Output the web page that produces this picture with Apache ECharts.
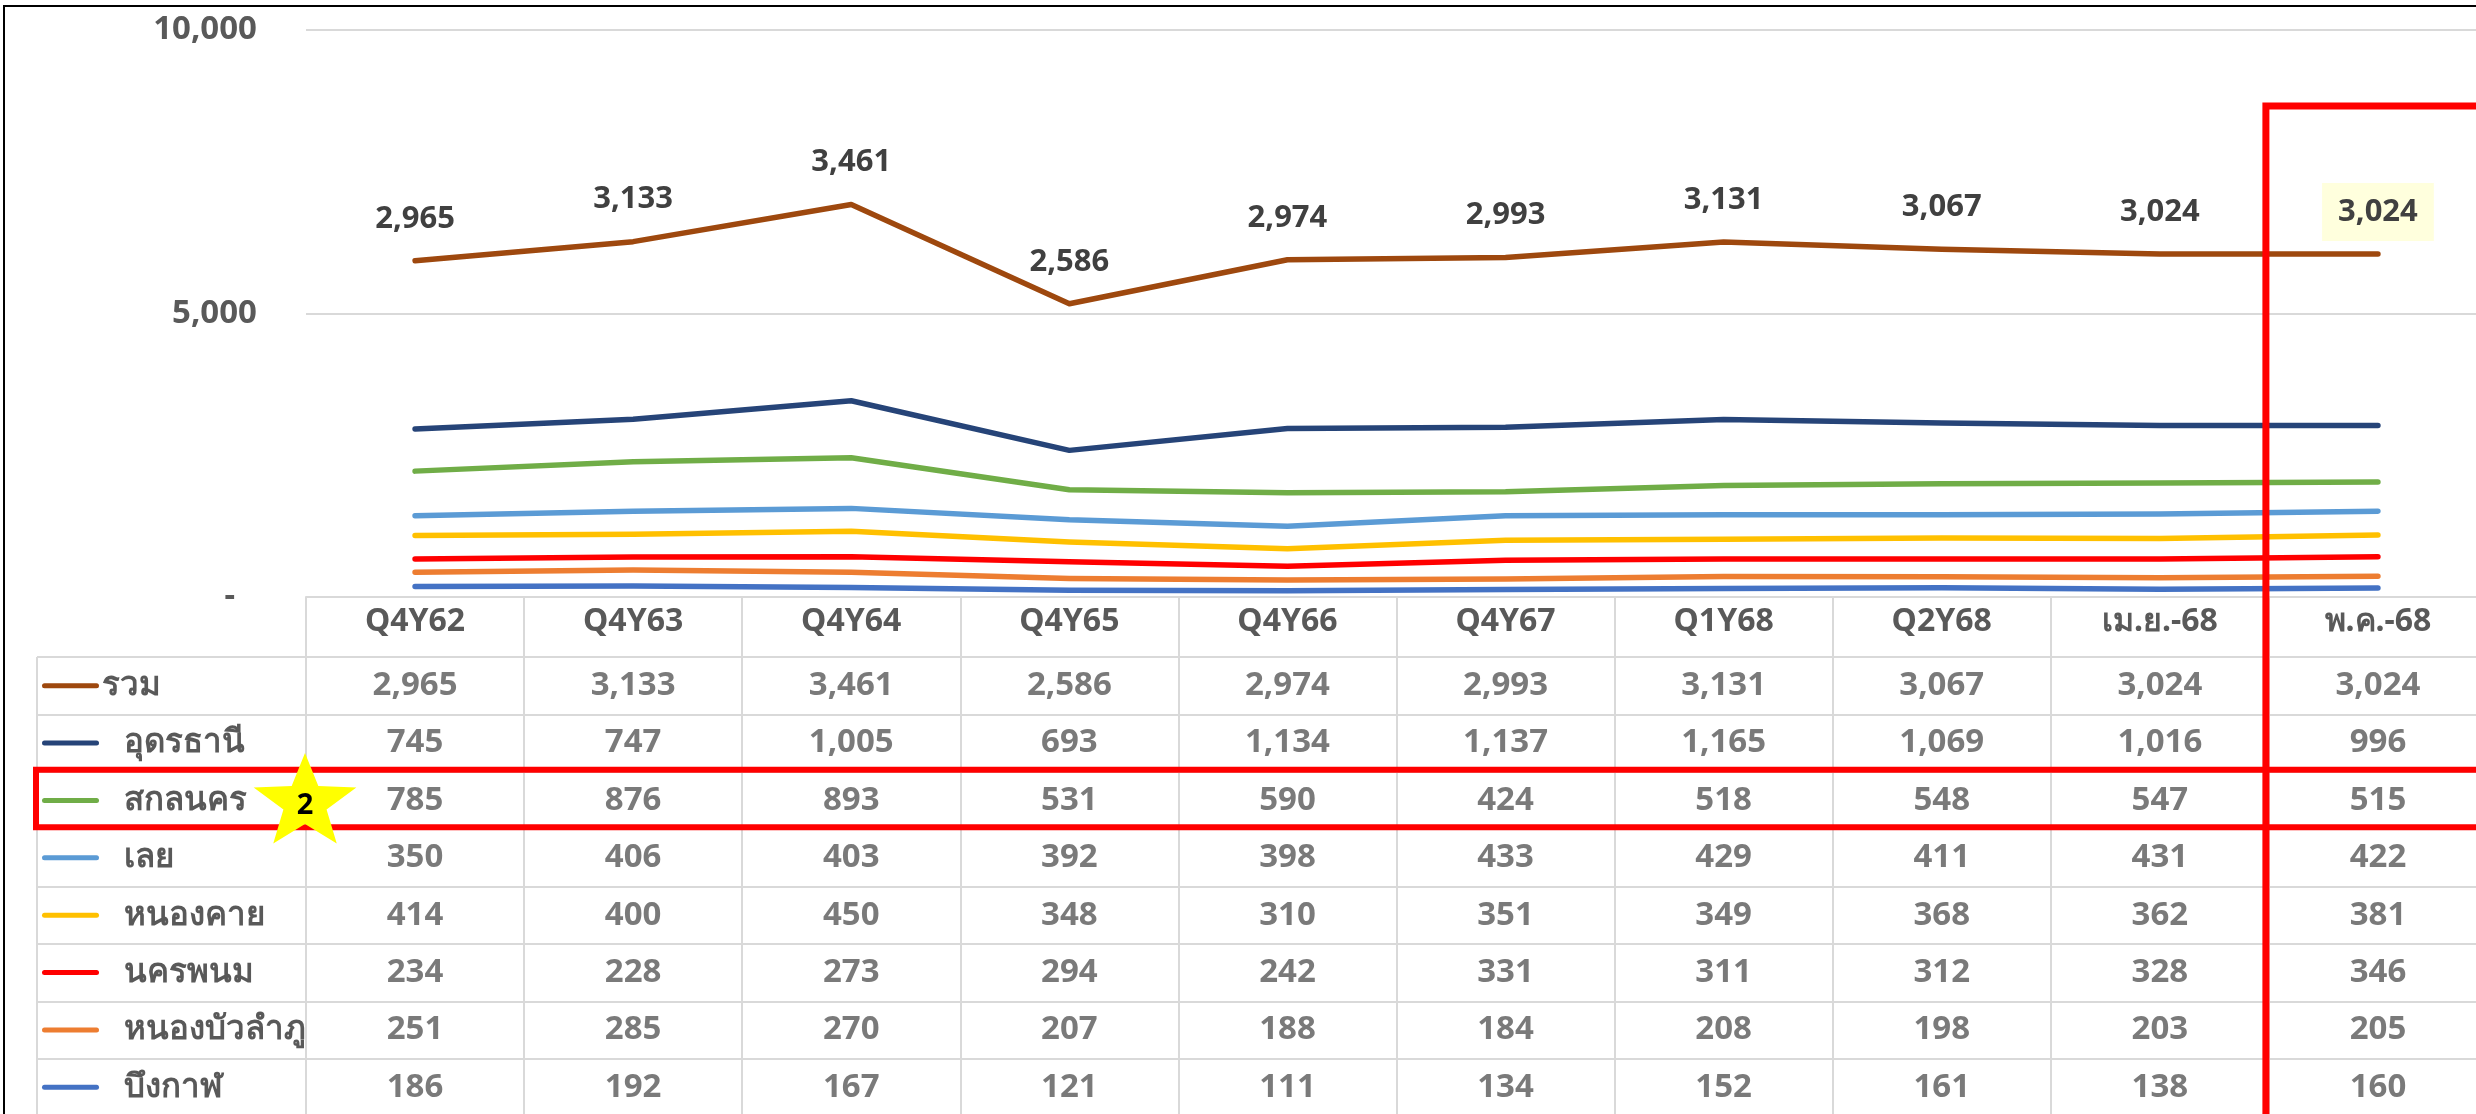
<!DOCTYPE html>
<html>
<head>
<meta charset="utf-8">
<script src="https://cdn.jsdelivr.net/npm/echarts@6/dist/echarts.min.js"></script>
<style>
  html, body { margin: 0; padding: 0; background: #fff; }
  #main { width: 2476px; height: 1114px; }
</style>
</head>
<body>
<div id="main"></div>
<script>
const categories = ['Q4Y62', 'Q4Y63', 'Q4Y64', 'Q4Y65', 'Q4Y66', 'Q4Y67', 'Q1Y68', 'Q2Y68', 'เม.ย.-68', 'พ.ค.-68'];
const rowNames = ['รวม', 'อุดรธานี', 'สกลนคร', 'เลย', 'หนองคาย', 'นครพนม', 'หนองบัวลำภู', 'บึงกาฬ'];

const total     = [2965, 3133, 3461, 2586, 2974, 2993, 3131, 3067, 3024, 3024];
const udon      = [745, 747, 1005, 693, 1134, 1137, 1165, 1069, 1016, 996];
const sakon     = [785, 876, 893, 531, 590, 424, 518, 548, 547, 515];
const loei      = [350, 406, 403, 392, 398, 433, 429, 411, 431, 422];
const nongkhai  = [414, 400, 450, 348, 310, 351, 349, 368, 362, 381];
const nakhon    = [234, 228, 273, 294, 242, 331, 311, 312, 328, 346];
const nongbua   = [251, 285, 270, 207, 188, 184, 208, 198, 203, 205];
const bueng     = [186, 192, 167, 121, 111, 134, 152, 161, 138, 160];

const yTicks = [0, 5000, 10000];

const rows = [total, udon, sakon, loei, nongkhai, nakhon, nongbua, bueng];
const colors = ['#9E480E', '#264478', '#70AD47', '#5B9BD5', '#FFC000', '#FF0000', '#ED7D31', '#4472C4'];

const FONT = "'Noto Sans', sans-serif";
const GRAY = '#595959';
const LINE = '#D9D9D9';
const fmt = v => v.toLocaleString('en-US');

const chartDom = document.getElementById('main');
const myChart = echarts.init(chartDom, null, { renderer: 'canvas' });

// stacked lines, bottom series first so รวม ends up on top
const lineSeries = rows.map((vals, i) => ({
  name: rowNames[i],
  type: 'line',
  stack: 'all',
  xAxisIndex: 0,
  yAxisIndex: 0,
  showSymbol: i === 0,
  symbol: 'circle',
  symbolSize: 2,
  lineStyle: { width: 5.5, color: colors[i], cap: 'round', join: 'round' },
  itemStyle: { color: 'rgba(0,0,0,0)' },
  z: 3,
  label: i === 0 ? {
    show: true,
    position: 'top',
    distance: 25,
    fontFamily: FONT,
    fontWeight: 'bold',
    fontSize: 31,
    lineHeight: 32,
    color: '#404040',
    formatter: p => fmt(p.value)
  } : { show: false },
  labelLayout: { hideOverlap: false },
  data: i === 0
    ? vals.map((v, j) => j === vals.length - 1
        ? { value: v, label: { backgroundColor: '#FFFFDD', padding: [13, 16], distance: 12 } }
        : v)
    : vals
})).reverse();

// table cells
const cellData = [];
rows.forEach((vals, r) => vals.forEach((v, c) => cellData.push([c, r, v])));

const rich = { tf: { padding: [0, 0, 0, 3] }, ti: { padding: [0, 0, 0, 25] } };
colors.forEach((c, i) => {
  rich['k' + i] = { backgroundColor: c, width: 57, height: 5, borderRadius: 3 };
});

const option = {
  animation: false,
  backgroundColor: '#fff',
  textStyle: { fontFamily: FONT },
  grid: [
    { left: 306, width: 2181, top: 30, height: 567, outerBoundsMode: 'none', containLabel: false },
    { left: 306, width: 2181, top: 657, height: 459, outerBoundsMode: 'none', containLabel: false },
    { left: 37, width: 269, top: 657, height: 459, outerBoundsMode: 'none', containLabel: false }
  ],
  xAxis: [
    {
      type: 'category',
      gridIndex: 0,
      data: categories,
      boundaryGap: true,
      axisLine: { lineStyle: { color: LINE, width: 2 } },
      axisTick: { show: true, length: 60, lineStyle: { color: LINE, width: 2 } },
      axisLabel: { margin: 9, fontFamily: FONT, fontWeight: 'bold', fontSize: 32, lineHeight: 32, color: GRAY },
      splitLine: { show: false }
    },
    {
      type: 'category',
      gridIndex: 1,
      data: categories,
      boundaryGap: true,
      axisLine: { show: false },
      axisTick: { show: false },
      axisLabel: { show: false },
      splitLine: { show: true, lineStyle: { color: LINE, width: 2 } }
    },
    {
      type: 'category',
      gridIndex: 2,
      data: [''],
      boundaryGap: true,
      axisLine: { show: false },
      axisTick: { show: false },
      axisLabel: { show: false },
      splitLine: { show: true, lineStyle: { color: LINE, width: 2 } }
    }
  ],
  yAxis: [
    {
      type: 'value',
      gridIndex: 0,
      min: yTicks[0],
      max: yTicks[yTicks.length - 1],
      interval: yTicks[1] - yTicks[0],
      axisLine: { show: false },
      axisTick: { show: false },
      axisLabel: {
        margin: 49,
        fontFamily: FONT, fontWeight: 'bold', fontSize: 33, color: GRAY,
        formatter: v => v === 0 ? '{d|-}' : fmt(v),
        rich: { d: { padding: [0, 22, 0, 0], fontFamily: FONT, fontWeight: 'bold', fontSize: 33, color: GRAY } }
      },
      splitLine: { show: true, lineStyle: { color: LINE, width: 2 } }
    },
    {
      type: 'category',
      gridIndex: 1,
      data: rowNames,
      inverse: true,
      axisLine: { show: false },
      axisTick: { show: false },
      axisLabel: { show: false },
      splitLine: { show: true, lineStyle: { color: LINE, width: 2 } }
    },
    {
      type: 'category',
      gridIndex: 2,
      data: rowNames,
      inverse: true,
      axisLine: { show: false },
      axisTick: { show: false },
      axisLabel: {
        show: true,
        inside: true,
        margin: 5,
        align: 'left',
        fontFamily: FONT, fontWeight: 'bold', fontSize: 33, color: GRAY,
        formatter: (name, idx) => `{k${idx}|}{${idx === 0 ? 'tf' : 'ti'}|${name}}`,
        rich: rich
      },
      splitLine: { show: true, lineStyle: { color: LINE, width: 2 } }
    }
  ],
  series: [
    ...lineSeries,
    {
      type: 'scatter',
      xAxisIndex: 1,
      yAxisIndex: 1,
      symbolSize: 1,
      itemStyle: { color: 'rgba(0,0,0,0)' },
      label: {
        show: true,
        position: 'inside',
        fontFamily: FONT, fontWeight: 'bold', fontSize: 33, color: GRAY,
        formatter: p => fmt(p.value[2])
      },
      data: cellData
    }
  ]
};

myChart.setOption(option);

// highlight boxes and the star, placed from the axes
const lastX = myChart.convertToPixel({ xAxisIndex: 0 }, categories[categories.length - 1]);
const prevX = myChart.convertToPixel({ xAxisIndex: 0 }, categories[categories.length - 2]);
const colW = lastX - prevX;
const rowY = myChart.convertToPixel({ yAxisIndex: 1 }, rowNames[2]);
const rowY2 = myChart.convertToPixel({ yAxisIndex: 1 }, rowNames[3]);
const rowH = rowY2 - rowY;

function starPoints(cx, cy, R, r) {
  const pts = [];
  for (let k = 0; k < 10; k++) {
    const a = -Math.PI / 2 + k * Math.PI / 5;
    const rad = k % 2 === 0 ? R : r;
    pts.push([cx + rad * Math.cos(a) * 1.08, cy + rad * Math.sin(a)]);
  }
  return pts;
}

const boxLeft = lastX - colW / 2 - 3;
const rowTop = rowY - rowH / 2 - 2;

myChart.setOption({
  graphic: [
    { type: 'rect', shape: { x: 4, y: 6, width: 2600, height: 1300 }, style: { fill: 'none', stroke: '#000', lineWidth: 2 }, z: 100 },
    { type: 'rect', shape: { x: boxLeft, y: 106, width: 400, height: 1100 }, style: { fill: 'none', stroke: '#FF0000', lineWidth: 7 }, z: 101 },
    { type: 'rect', shape: { x: 36, y: rowTop, width: 2600, height: rowH }, style: { fill: 'none', stroke: '#FF0000', lineWidth: 6 }, z: 101 },
    { type: 'polygon', shape: { points: starPoints(305, 803, 50, 21) }, style: { fill: '#FFFF00' }, z: 102 },
    { type: 'text', x: 305, y: 806, style: { text: '2', fontFamily: FONT, fontWeight: 'bold', fontSize: 29, fill: '#000', align: 'center', verticalAlign: 'middle' }, z: 103 }
  ]
});
</script>
</body>
</html>
